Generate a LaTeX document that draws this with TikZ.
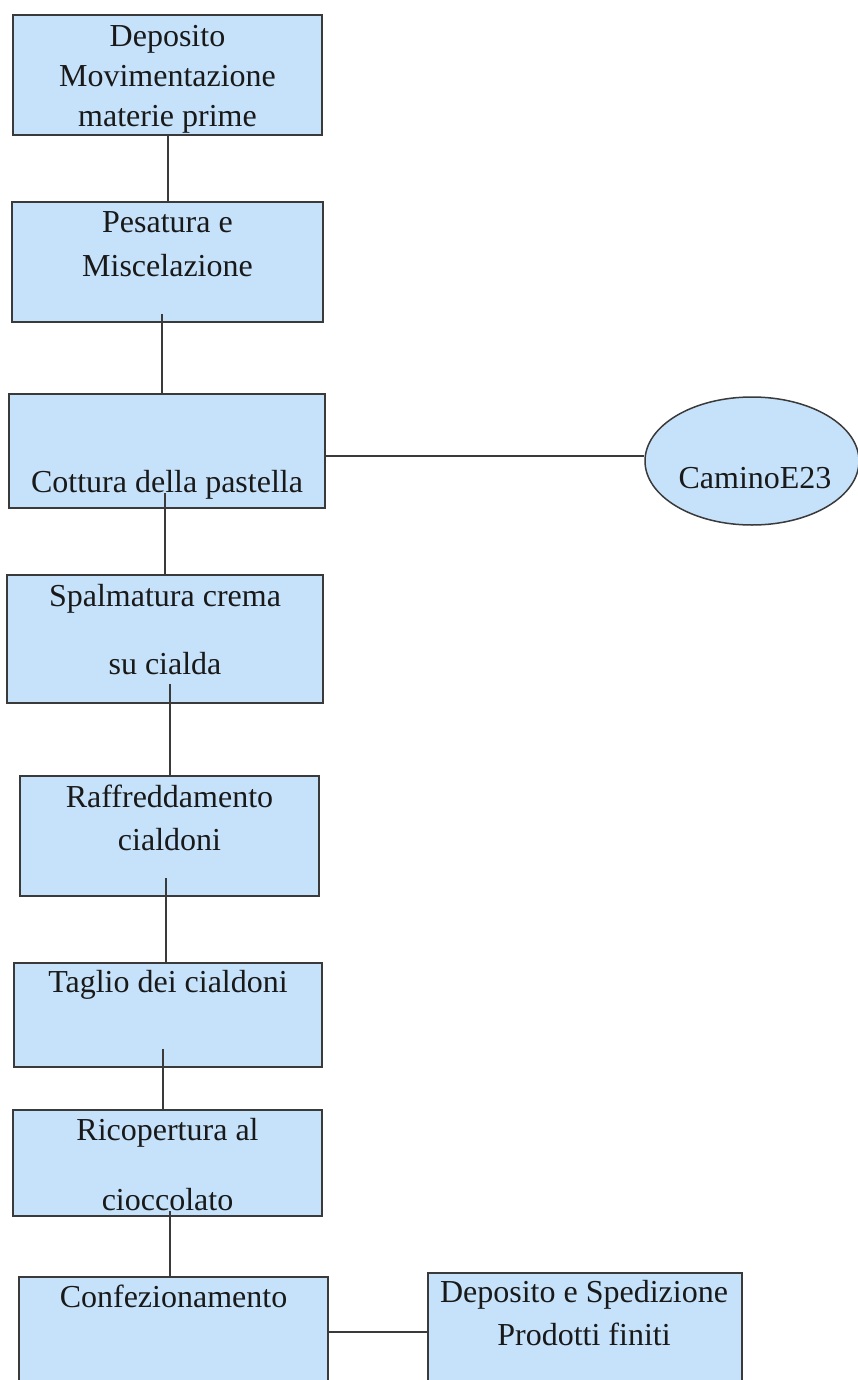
\documentclass[tikz,border=0pt]{standalone}
\usepackage{fontspec}
\setmainfont{Liberation Serif}
\usetikzlibrary{shapes.geometric}
\definecolor{boxfill}{RGB}{198,226,250}
\definecolor{boxline}{RGB}{58,58,58}
\definecolor{txt}{RGB}{25,25,25}
\tikzset{
  procbox/.style={draw=boxline, fill=boxfill, line width=1.5pt, inner sep=0pt, rectangle},
  ovalbox/.style={draw=boxline, fill=boxfill, line width=1.5pt, inner sep=0pt, ellipse},
  lbl/.style={anchor=base, inner sep=0pt, text=txt, font=\fontsize{32}{38}\selectfont},
  conn/.style={draw=boxline, line width=1.5pt}
}
\begin{document}
\begin{tikzpicture}[x=1pt,y=-1pt]
\useasboundingbox (0,0) rectangle (858,1380);
\fill[white] (0,0) rectangle (858,1380);
\begin{scope}
\clip (0,0) rectangle (858,1380);
% boxes
\node[procbox, minimum width=309pt, minimum height=120pt] (b1) at (167.5,75) {};
\node[procbox, minimum width=311pt, minimum height=120pt] (b2) at (167.5,262) {};
\node[procbox, minimum width=316pt, minimum height=114pt] (b3) at (167,451) {};
\node[procbox, minimum width=316pt, minimum height=128pt] (b4) at (165,639) {};
\node[procbox, minimum width=299pt, minimum height=120pt] (b5) at (169.5,836) {};
\node[procbox, minimum width=308pt, minimum height=104pt] (b6) at (168,1015) {};
\node[procbox, minimum width=309pt, minimum height=106pt] (b7) at (167.5,1163) {};
\node[procbox, minimum width=309pt, minimum height=118pt] (b8) at (173.5,1336) {};
\node[procbox, minimum width=314pt, minimum height=122pt] (b9) at (585,1334) {};
\node[ovalbox, minimum width=214pt, minimum height=128pt] (e1) at (752,461) {};
% labels
\node[lbl] (t1a) at (167.5,47) {Deposito};
\node[lbl] (t1b) at (167.5,87) {Movimentazione};
\node[lbl] (t1c) at (167.5,127) {materie prime};
\node[lbl] (t2a) at (167.5,233) {Pesatura e};
\node[lbl] (t2b) at (167.5,276) {Miscelazione};
\node[lbl] (t3) at (167,492) {Cottura della pastella};
\node[lbl] (t4a) at (165,606) {Spalmatura crema};
\node[lbl] (t4b) at (165,674) {su cialda};
\node[lbl] (t5a) at (169.5,807) {Raffreddamento};
\node[lbl] (t5b) at (169.5,850) {cialdoni};
\node[lbl] (t6) at (168,992) {Taglio dei cialdoni};
\node[lbl] (t7a) at (167.5,1140) {Ricopertura al};
\node[lbl] (t7b) at (167.5,1210) {cioccolato};
\node[lbl] (t8) at (173.5,1307) {Confezionamento};
\node[lbl] (t9a) at (584,1302) {Deposito e Spedizione};
\node[lbl] (t9b) at (584,1345) {Prodotti finiti};
\node[lbl] (te) at (755,488) {CaminoE23};
% connectors
\draw[conn] ([xshift=0.5pt]b1.south) -- ([xshift=0.5pt]b2.north);
\draw[conn] ([xshift=-5.5pt,yshift=9pt]b2.south) -- ([xshift=-5pt]b3.north);
\draw[conn] ([yshift=-5pt]b3.east) -- ([yshift=5pt]e1.west);
\draw[conn] ([xshift=-2pt,yshift=16pt]b3.south) -- ([xshift=0pt]b4.north);
\draw[conn] ([xshift=5pt,yshift=20pt]b4.south) -- ([xshift=0.5pt]b5.north);
\draw[conn] ([xshift=-3.5pt,yshift=19pt]b5.south) -- ([xshift=-2pt]b6.north);
\draw[conn] ([xshift=-5pt,yshift=19pt]b6.south) -- ([xshift=-4.5pt]b7.north);
\draw[conn] ([xshift=2.5pt,yshift=6pt]b7.south) -- ([xshift=-3.5pt]b8.north);
\draw[conn] ([yshift=4pt]b8.east) -- ([yshift=2pt]b9.west);
\end{scope}
\end{tikzpicture}
\end{document}
